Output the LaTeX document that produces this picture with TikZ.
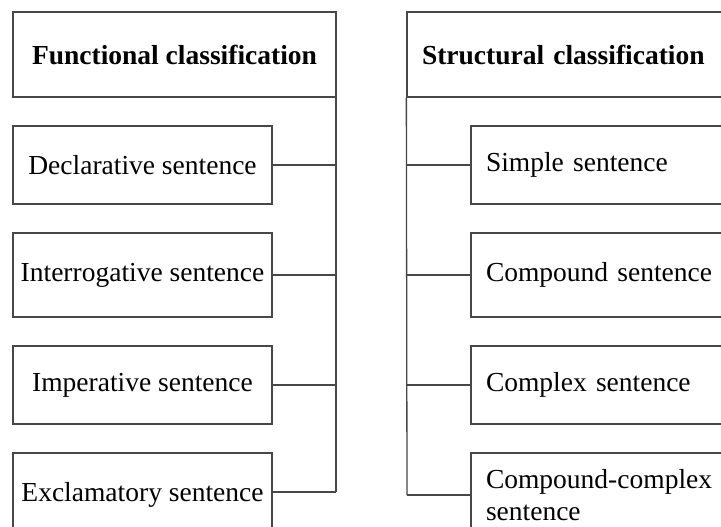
\documentclass[tikz,border=0pt]{standalone}
\usepackage{fontspec}
\setmainfont{Liberation Serif}
\begin{document}
\begin{tikzpicture}[x=1pt,y=-1pt,
  every node/.style={font=\fontsize{27.5}{32}\selectfont},
  box/.style={draw=black!72, line width=1.3pt, rectangle, inner sep=0pt},
  lbox/.style={box, minimum width=259pt, minimum height=78pt},
  rbox/.style={box, minimum width=270pt, minimum height=78pt, text width=240pt, align=left},
  conn/.style={draw=black!72, line width=1.3pt}]
\useasboundingbox (0,0) rectangle (721,527);
\clip (0,0) rectangle (721,527);
% left column
\node[box, minimum width=323pt, minimum height=85pt, font=\fontsize{27.5}{32}\selectfont\bfseries] (lhead) at (174.5,54.5) {Functional classification};
\node[lbox] (dec) at (142.5,165) {Declarative sentence};
\node[lbox, minimum height=84pt] (int) at (142.5,275) {Interrogative sentence};
\node[lbox] (imp) at (142.5,385) {Imperative sentence};
\node[lbox, minimum height=84pt] (exc) at (142.5,495) {Exclamatory sentence};
\coordinate (ltop) at (336,65);
\coordinate (lbot) at (336,492);
\draw[conn] (ltop) -- (lbot);
\draw[conn] (dec.east) -- (dec.east -| ltop);
\draw[conn] (int.east) -- (int.east -| ltop);
\draw[conn] (imp.east) -- (imp.east -| ltop);
\draw[conn] (exc.east |- lbot) -- (lbot);
% right column
\node[box, minimum width=340pt, minimum height=85pt, text width=310pt, align=left, font=\fontsize{27.5}{32}\selectfont\bfseries] (rhead) at (577,54.5) {Structural classification};
\node[rbox] (sim) at (606,165) {Simple sentence};
\node[rbox, minimum height=84pt] (com) at (606,275) {Compound sentence};
\node[rbox] (cpx) at (606,385) {Complex sentence};
\node[rbox, minimum height=84pt] (cc) at (606,495) {Compound-complex\\sentence};
\coordinate (rbot) at (407,495);
\draw[conn] (rhead.south west) -- (rbot);
\draw[conn] (sim.west -| rbot) -- (sim.west);
\draw[conn] (com.west -| rbot) -- (com.west);
\draw[conn] (cpx.west -| rbot) -- (cpx.west);
\draw[conn] (rbot) -- (cc.west |- rbot);
\end{tikzpicture}
\end{document}
